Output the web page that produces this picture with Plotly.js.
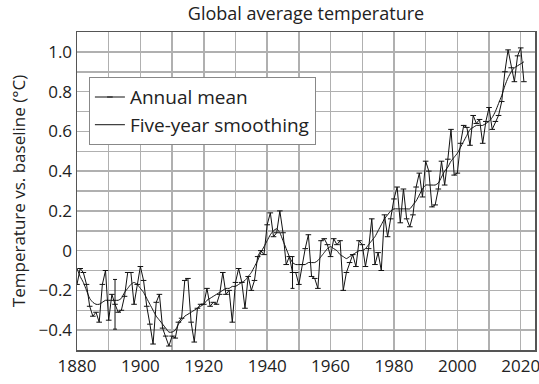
<!DOCTYPE html>
<html>
<head>
<meta charset="utf-8">
<script src="https://cdn.plot.ly/plotly-3.0.1.min.js"></script>
<style>html,body{margin:0;padding:0;background:#fff;}#chart{width:539px;height:384px;}</style>
</head>
<body>
<div id="chart"></div>
<script>
const years = [
1880,1881,1882,1883,1884,1885,1886,1887,1888,1889,
1890,1891,1892,1893,1894,1895,1896,1897,1898,1899,
1900,1901,1902,1903,1904,1905,1906,1907,1908,1909,
1910,1911,1912,1913,1914,1915,1916,1917,1918,1919,
1920,1921,1922,1923,1924,1925,1926,1927,1928,1929,
1930,1931,1932,1933,1934,1935,1936,1937,1938,1939,
1940,1941,1942,1943,1944,1945,1946,1947,1948,1949,
1950,1951,1952,1953,1954,1955,1956,1957,1958,1959,
1960,1961,1962,1963,1964,1965,1966,1967,1968,1969,
1970,1971,1972,1973,1974,1975,1976,1977,1978,1979,
1980,1981,1982,1983,1984,1985,1986,1987,1988,1989,
1990,1991,1992,1993,1994,1995,1996,1997,1998,1999,
2000,2001,2002,2003,2004,2005,2006,2007,2008,2009,
2010,2011,2012,2013,2014,2015,2016,2017,2018,2019,
2020,2021];

const annualMean = [
-0.17,-0.09,-0.11,-0.17,-0.28,-0.33,-0.31,-0.36,-0.17,-0.10,
-0.35,-0.22,-0.27,-0.31,-0.30,-0.23,-0.11,-0.11,-0.27,-0.17,
-0.08,-0.15,-0.28,-0.37,-0.47,-0.26,-0.22,-0.39,-0.43,-0.48,
-0.43,-0.44,-0.36,-0.34,-0.15,-0.14,-0.36,-0.46,-0.29,-0.27,
-0.27,-0.19,-0.28,-0.26,-0.27,-0.22,-0.11,-0.22,-0.20,-0.36,
-0.16,-0.09,-0.16,-0.29,-0.13,-0.20,-0.15,-0.03,-0.00,-0.02,
0.13,0.19,0.07,0.09,0.20,0.09,-0.07,-0.03,-0.11,-0.11,
-0.17,-0.07,0.01,0.08,-0.13,-0.14,-0.19,0.05,0.06,0.03,
-0.03,0.06,0.03,0.05,-0.20,-0.11,-0.06,-0.02,-0.08,0.05,
0.03,-0.08,0.01,0.16,-0.07,-0.01,-0.10,0.18,0.07,0.16,
0.26,0.32,0.14,0.31,0.16,0.12,0.18,0.32,0.39,0.27,
0.45,0.40,0.22,0.23,0.31,0.45,0.33,0.46,0.61,0.38,
0.39,0.54,0.63,0.62,0.53,0.68,0.64,0.66,0.54,0.65,
0.72,0.61,0.65,0.68,0.75,0.90,1.01,0.92,0.85,0.98,
1.02,0.85];

const fiveYearSmoothing = [
-0.09,-0.13,-0.16,-0.20,-0.24,-0.26,-0.27,-0.27,-0.26,-0.25,
-0.25,-0.25,-0.25,-0.25,-0.24,-0.21,-0.19,-0.17,-0.16,-0.17,
-0.19,-0.21,-0.24,-0.27,-0.30,-0.33,-0.35,-0.37,-0.39,-0.41,
-0.41,-0.40,-0.37,-0.35,-0.33,-0.32,-0.31,-0.30,-0.29,-0.28,
-0.27,-0.25,-0.24,-0.23,-0.22,-0.21,-0.20,-0.19,-0.19,-0.18,
-0.18,-0.17,-0.16,-0.15,-0.13,-0.11,-0.08,-0.05,-0.01,0.02,
0.05,0.08,0.10,0.11,0.09,0.05,0.01,-0.03,-0.06,-0.07,
-0.07,-0.07,-0.07,-0.06,-0.06,-0.06,-0.05,-0.03,-0.01,0.01,
0.02,0.01,0.00,-0.02,-0.03,-0.04,-0.03,-0.02,-0.01,0.00,
0.00,0.01,0.03,0.05,0.07,0.10,0.13,0.16,0.18,0.20,
0.21,0.21,0.21,0.21,0.21,0.21,0.23,0.25,0.28,0.31,
0.33,0.33,0.33,0.33,0.34,0.37,0.40,0.42,0.45,0.47,
0.49,0.52,0.55,0.58,0.61,0.62,0.63,0.63,0.63,0.64,
0.65,0.67,0.70,0.74,0.78,0.83,0.87,0.90,0.92,0.93,
0.94,0.95];

// uncertainty bars
const errYears = [1892, 1948];
const errCenters = [-0.27, -0.11];
const errHalf = [0.125, 0.08];

const xTickVals = [1880,1890,1900,1910,1920,1930,1940,1950,1960,1970,1980,1990,2000,2010,2020];
const xTickText = ['1880','','1900','','1920','','1940','','1960','','1980','','2000','','2020'];
const yTickVals = [-0.5,-0.4,-0.3,-0.2,-0.1,0,0.1,0.2,0.3,0.4,0.5,0.6,0.7,0.8,0.9,1.0,1.1];
const yTickText = ['','\u22120.4','','\u22120.2','','0','','0.2','','0.4','','0.6','','0.8','','1.0',''];

const FONT = '"Open Sans", "Noto Sans", sans-serif';

const traces = [
  {
    x: years, y: annualMean, name: 'Annual mean', type: 'scatter', mode: 'lines+markers',
    line: {color: '#111', width: 1},
    marker: {symbol: 'line-ew', size: 4, color: '#111', line: {color: '#111', width: 1}}
  },
  {
    x: years, y: fiveYearSmoothing, name: 'Five-year smoothing', type: 'scatter', mode: 'lines',
    line: {color: '#111', width: 1, shape: 'spline', smoothing: 0.6}
  },
  {
    x: errYears, y: errCenters, type: 'scatter', mode: 'markers', showlegend: false, hoverinfo: 'skip',
    marker: {size: 1, color: 'rgba(0,0,0,0)'},
    error_y: {type: 'data', array: errHalf, visible: true, color: '#111', thickness: 1, width: 2}
  }
];

const layout = {
  width: 539, height: 384,
  margin: {l: 77, r: 4, t: 32, b: 34},
  paper_bgcolor: '#fff', plot_bgcolor: '#fff',
  font: {family: FONT, color: '#222', size: 16},
  title: {text: 'Global average temperature', font: {family: FONT, size: 18, color: '#222'},
          x: 0.5, xref: 'paper', y: 1 - 14/384, yref: 'container', yanchor: 'middle'},
  showlegend: true,
  legend: {x: 0.026, y: 0.858, xanchor: 'left', yanchor: 'top', bgcolor: '#fff',
           bordercolor: '#888', borderwidth: 1, font: {family: FONT, size: 19, color: '#222'},
           tracegroupgap: 0},
  xaxis: {range: [1880, 2024.5], tickmode: 'array', tickvals: xTickVals, ticktext: xTickText,
          showgrid: true, gridcolor: '#b0b0b0', gridwidth: 1.5, zeroline: false,
          showline: true, linecolor: '#555', linewidth: 1.5, mirror: true, ticks: '',
          ticklabeloverflow: 'allow',
          tickfont: {family: FONT, size: 17, color: '#222'}},
  yaxis: {range: [-0.5, 1.1], tickmode: 'array', tickvals: yTickVals, ticktext: yTickText,
          showgrid: true, gridcolor: '#b0b0b0', gridwidth: 1.5, zeroline: false,
          showline: true, linecolor: '#555', linewidth: 1.5, mirror: true, ticks: '',
          tickfont: {family: FONT, size: 17, color: '#222'},
          title: {text: 'Temperature vs. baseline (°C)', font: {family: FONT, size: 17, color: '#222'}, standoff: 8}}
};

Plotly.newPlot('chart', traces, layout, {displayModeBar: false, staticPlot: true});
</script>
</body>
</html>
